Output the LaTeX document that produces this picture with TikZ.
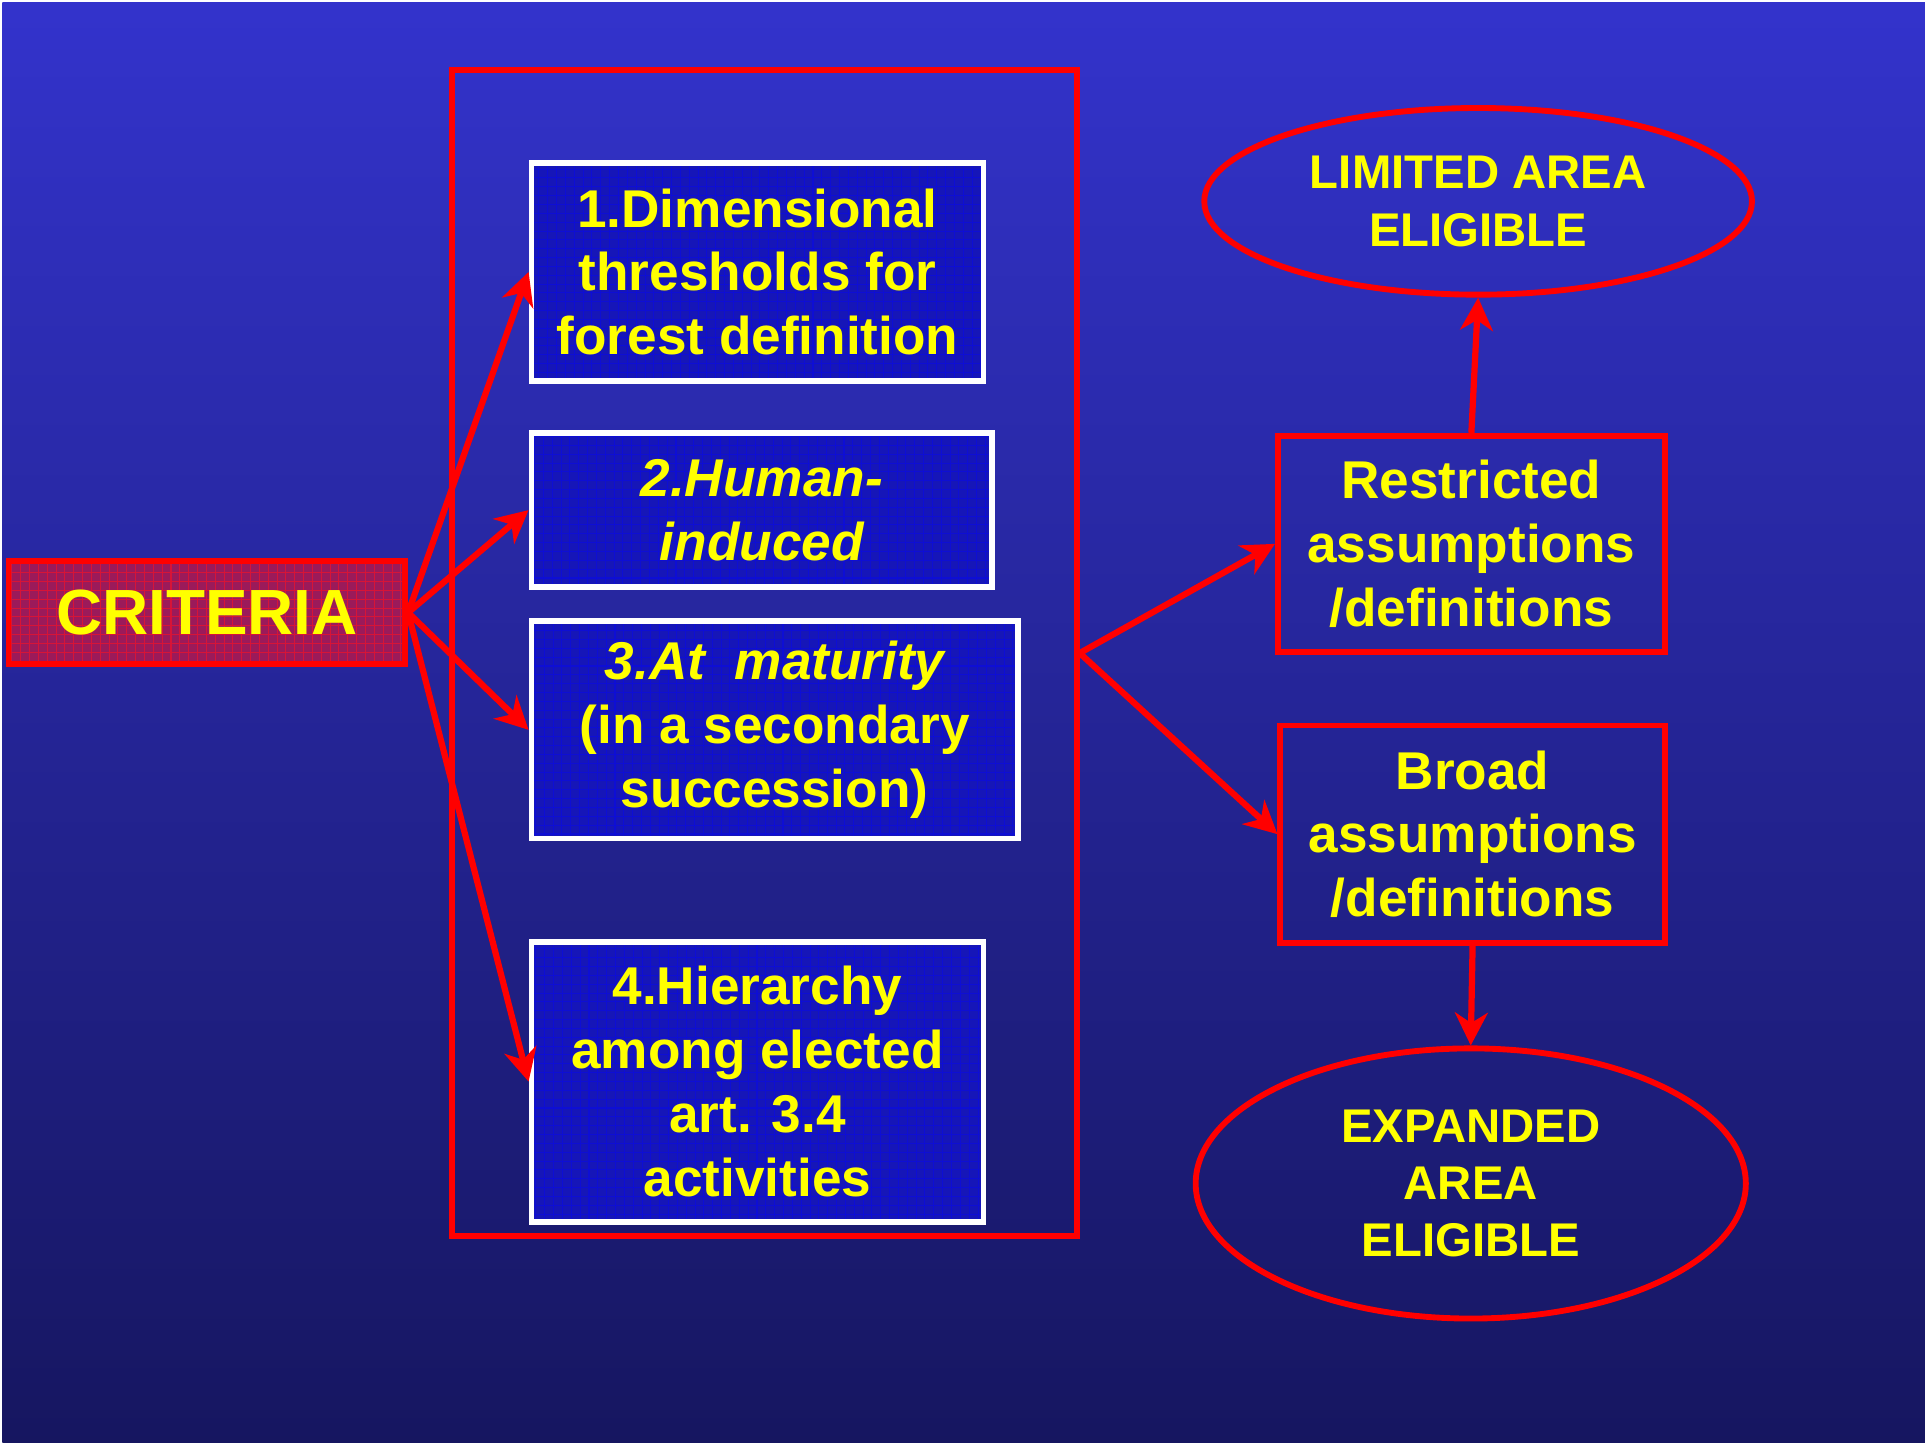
\documentclass[tikz,border=0pt]{standalone}
\usepackage{fontspec}
\setmainfont{Liberation Sans}
\usetikzlibrary{arrows.meta, positioning, shapes.geometric}

\definecolor{bgtop}{RGB}{51,51,204}
\definecolor{bgmid}{RGB}{44,44,170}
\definecolor{bgbot}{RGB}{22,22,96}
\definecolor{boxblue}{RGB}{22,22,184}
\definecolor{gridblue}{RGB}{14,14,212}
\definecolor{critfill}{RGB}{155,26,90}
\definecolor{gridred}{RGB}{215,20,55}
\definecolor{txtyellow}{RGB}{255,255,0}

\begin{document}
\begin{tikzpicture}[x=0.0125cm, y=-0.0125cm,
    box/.style={
        rectangle, line width=1.7pt, inner sep=0pt, align=center,
        text=txtyellow, font=\fontsize{15.4}{18.5}\selectfont\bfseries
    },
    gridded/.style={path picture={
        \draw[#1, line width=0.3pt, step=0.09cm]
          (path picture bounding box.south west) grid (path picture bounding box.north east);}},
    bluebox/.style={box, draw=white, fill=boxblue, gridded=gridblue},
    redbox/.style={box, draw=red},
    critbox/.style={box, draw=red, fill=critfill, gridded=gridred,
        font=\fontsize{18.5}{22}\selectfont\bfseries},
    oval/.style={ellipse, draw=red, line width=1.7pt, inner sep=0pt, align=center,
        text=txtyellow, font=\fontsize{13.7}{16.6}\selectfont\bfseries},
    arrow/.style={-{Stealth[length=9.5pt, width=9.5pt, inset=3pt]}, draw=red, line width=1.8pt}
]

% Background
\fill[white] (0,0) rectangle (1568,1175);
\shade[top color=bgtop, middle color=bgmid, bottom color=bgbot] (2,2) rectangle (1568,1175);
\useasboundingbox (0,0) rectangle (1568,1175);

% Criteria and the frame round the four criteria
\node[critbox, minimum width=4.0375cm, minimum height=1.05cm] (crit) at (168.5,499) {CRITERIA};
\node[redbox, minimum width=6.3625cm, minimum height=11.875cm] (frame) at (622.5,532) {};

% The four criteria
\node[bluebox, minimum width=4.6cm, minimum height=2.2125cm] (dim) at (617,221.5)
    {1.Dimensional\\thresholds for\\forest definition};
\node[bluebox, minimum width=4.6875cm, minimum height=1.5625cm] (human) at (620.5,415.5)
    {\itshape 2.Human-\\\itshape induced};
\node[bluebox, minimum width=4.95cm, minimum height=2.2125cm] (matur) at (631,594.5)
    {\itshape 3.At\ \ maturity\\(in a secondary\\succession)};
\node[bluebox, minimum width=4.6cm, minimum height=2.85cm] (hier) at (617,881)
    {4.Hierarchy\\among elected\\art. 3.4\\activities};

% Assumptions and outcomes
\node[redbox, minimum width=3.9375cm, minimum height=2.2cm] (restr) at (1198.5,443)
    {Restricted\\assumptions\\/definitions};
\node[redbox, minimum width=3.9125cm, minimum height=2.2125cm] (broad) at (1199.5,679.5)
    {Broad\\assumptions\\/definitions};
\node[oval, minimum width=5.575cm, minimum height=1.9cm] (limited) at (1204,164)
    {LIMITED AREA\\ELIGIBLE};
\node[oval, minimum width=5.6cm, minimum height=2.75cm] (expanded) at (1198,964)
    {EXPANDED\\AREA\\ELIGIBLE};

% Arrows from the criteria
\foreach \b in {dim, human, matur, hier}
    \draw[arrow] (crit.east) -- (\b.west);

% Arrows to the assumptions and outcomes
\draw[arrow] (frame.east) -- (restr.west);
\draw[arrow] (frame.east) -- (broad.west);
\draw[arrow] (restr.north) -- (limited.south);
\draw[arrow] (broad.south) -- (expanded.north);

\end{tikzpicture}
\end{document}
